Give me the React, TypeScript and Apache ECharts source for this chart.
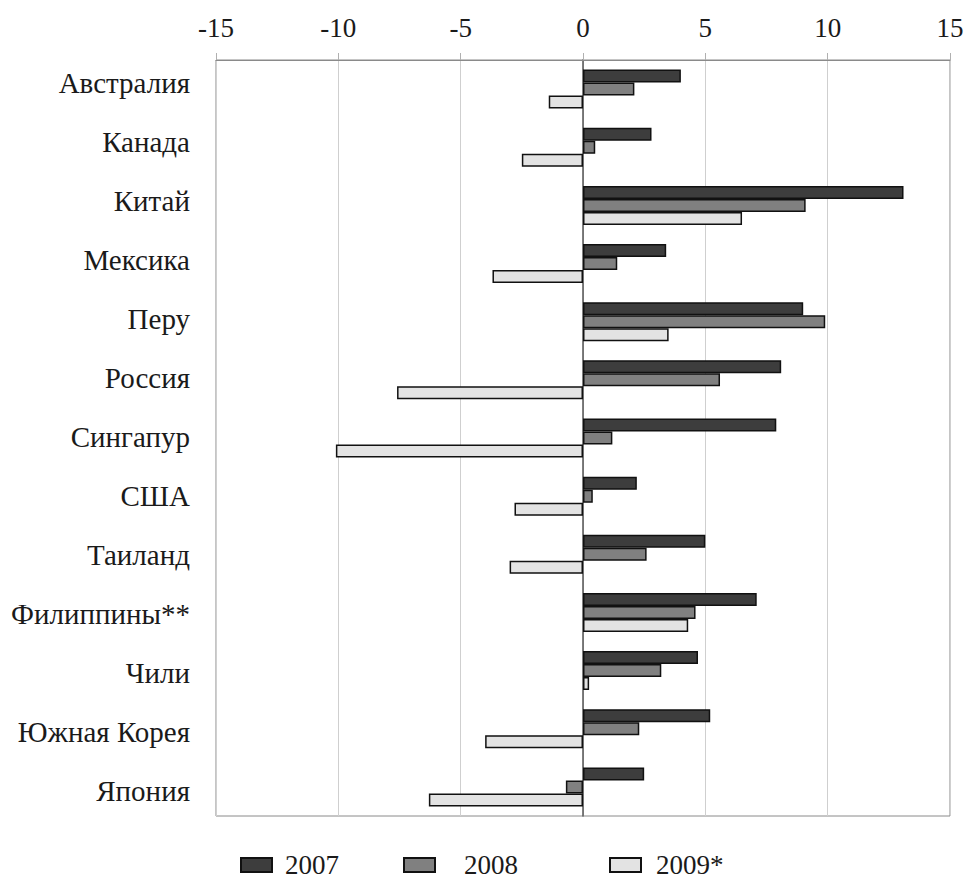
import React, { useEffect, useRef } from "react";
import * as echarts from "echarts";

const categories = [
  "Австралия",
  "Канада",
  "Китай",
  "Мексика",
  "Перу",
  "Россия",
  "Сингапур",
  "США",
  "Таиланд",
  "Филиппины**",
  "Чили",
  "Южная Корея",
  "Япония",
];

const values2007 = [4.0, 2.8, 13.1, 3.4, 9.0, 8.1, 7.9, 2.2, 5.0, 7.1, 4.7, 5.2, 2.5];
const values2008 = [2.1, 0.5, 9.1, 1.4, 9.9, 5.6, 1.2, 0.4, 2.6, 4.6, 3.2, 2.3, -0.7];
const values2009 = [-1.4, -2.5, 6.5, -3.7, 3.5, -7.6, -10.1, -2.8, -3.0, 4.3, 0.25, -4.0, -6.3];

const seriesNames = ["2007", "2008", "2009*"];
const xTicks = { min: -15, max: 15, interval: 5 };

const FONT = "'Liberation Serif', 'DejaVu Serif', serif";

export default function App() {
  const ref = useRef<HTMLDivElement>(null);

  useEffect(() => {
    if (!ref.current) return;
    const chart = echarts.init(ref.current, null, { renderer: "svg" });
    const colors = ["#3d3d3d", "#808080", "#e3e3e3"];
    const data = [values2007, values2008, values2009];
    const legendPos = [
      { left: 235, pad: 8 },
      { left: 398, pad: 24 },
      { left: 604, pad: 10 },
    ];
    chart.setOption({
      animation: false,
      backgroundColor: "#ffffff",
      grid: [
        {
          left: 216,
          right: 18,
          top: 60,
          bottom: 65,
          show: true,
          borderColor: "#8a8a8a",
          borderWidth: 1,
        },
        {
          left: 216,
          right: 18,
          top: 53,
          bottom: 60,
          show: false,
        },
      ],
      xAxis: [
        {
          type: "value",
          position: "top",
          gridIndex: 0,
          min: xTicks.min,
          max: xTicks.max,
          interval: xTicks.interval,
          axisLine: { show: true, lineStyle: { color: "#8a8a8a", width: 1 } },
          axisTick: { show: true, length: 7, lineStyle: { color: "#b0b0b0" } },
          axisLabel: {
            fontFamily: FONT,
            fontSize: 27,
            color: "#1a1a1a",
            margin: 19,
          },
          splitLine: { show: true, lineStyle: { color: "#cfcfcf", width: 1 } },
        },
        {
          type: "value",
          gridIndex: 1,
          min: xTicks.min,
          max: xTicks.max,
          show: false,
        },
      ],
      yAxis: [
        {
          type: "category",
          gridIndex: 0,
          data: categories,
          inverse: true,
          axisLine: { show: true, lineStyle: { color: "#555", width: 1.5 } },
          axisTick: { show: false },
          axisLabel: { show: false },
          splitLine: { show: false },
        },
        {
          type: "category",
          gridIndex: 1,
          data: categories,
          inverse: true,
          axisLine: { show: false },
          axisTick: { show: false },
          axisLabel: {
            fontFamily: FONT,
            fontSize: 29,
            color: "#1a1a1a",
            margin: 26,
          },
          splitLine: { show: false },
        },
      ],
      legend: legendPos.map((p, i) => ({
        data: [seriesNames[i]],
        left: p.left,
        top: 846,
        itemWidth: 31,
        itemHeight: 14,
        icon: "rect",
        textStyle: {
          fontFamily: FONT,
          fontSize: 27,
          lineHeight: 28,
          color: "#1a1a1a",
          padding: [0, 0, 0, p.pad],
        },
      })),
      series: seriesNames.map((name, i) => ({
        name,
        type: "bar",
        xAxisIndex: 0,
        yAxisIndex: 0,
        data: data[i],
        barWidth: 13,
        barGap: "0%",
        itemStyle: {
          color: colors[i],
          borderColor: "#111",
          borderWidth: 1.5,
        },
      })),
    });
    return () => chart.dispose();
  }, []);

  return (
    <div
      ref={ref}
      style={{ position: "absolute", left: 0, top: 0, width: 968, height: 881 }}
    />
  );
}
